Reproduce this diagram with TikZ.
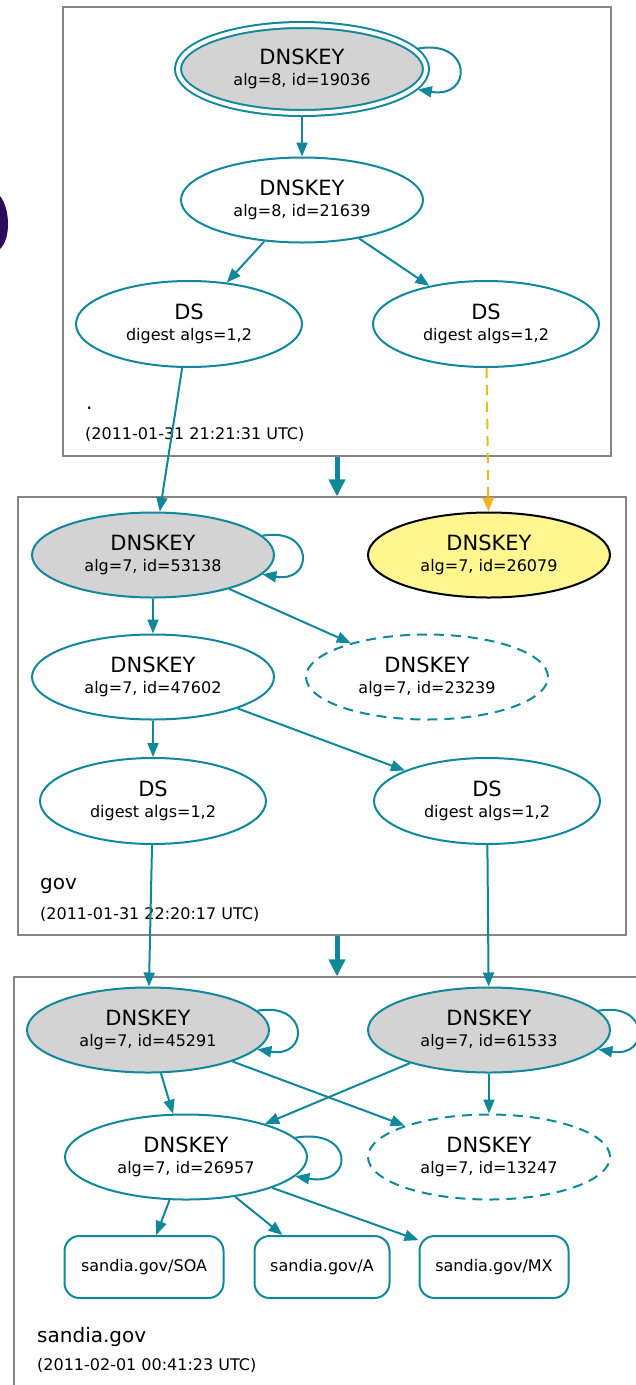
\documentclass[tikz,border=0pt]{standalone}
\usepackage{fontspec}
\setmainfont{DejaVu Sans}
\usepackage{tikz}
\usetikzlibrary{shapes.geometric,arrows.meta,positioning}
\definecolor{dvteal}{HTML}{10879A}
\definecolor{keygray}{HTML}{D3D3D3}
\definecolor{keyyellow}{HTML}{FFF68F}
\definecolor{lameorange}{HTML}{F2B51E}
\definecolor{zonegray}{HTML}{858585}
\definecolor{slidepurple}{HTML}{2E0A5E}
\tikzstyle{key} = [ellipse, draw=dvteal, line width=2pt, minimum width=242pt,
minimum height=85pt, inner sep=0pt, align=center, font=\fontsize{16}{21}\selectfont]
\tikzstyle{ds} = [key, minimum width=226pt, minimum height=86pt]
\tikzstyle{sep} = [key, fill=keygray]
\tikzstyle{trust} = [sep, double=white, double distance=4pt, outer sep=4pt,
minimum width=248pt, minimum height=88pt]
\tikzstyle{nokey} = [key, dash pattern=on 10pt off 7pt]
\tikzstyle{rrset} = [rectangle, draw=dvteal, line width=2pt, rounded corners=15pt,
minimum height=62pt, inner sep=0pt, font=\fontsize{16}{19}\selectfont]
\tikzstyle{zone} = [rectangle, draw=zonegray, line width=1.3pt, inner sep=0pt]
\tikzstyle{zonename} = [anchor=base west, inner sep=0pt, font=\fontsize{20}{24}\selectfont]
\tikzstyle{zonedate} = [anchor=base west, inner sep=0pt, font=\fontsize{16}{19}\selectfont]
\tikzstyle{line} = [draw=dvteal, line width=2pt, -{Triangle[length=14pt,width=11pt]}]
\tikzstyle{lame} = [draw=lameorange, line width=2pt, dash pattern=on 10pt off 7pt,
-{Triangle[length=14pt,width=11pt]}]
\tikzstyle{deleg} = [draw=dvteal, line width=5pt, -{Triangle[length=17pt,width=16pt]}]
\newcommand{\rrhead}[1]{{\fontsize{21}{21}\selectfont #1}}

\begin{document}
\begin{tikzpicture}[x=1pt, y=1pt]
\useasboundingbox (0,0) rectangle (635,-1385);
% Place zones
\node [zone, minimum width=548pt, minimum height=449pt] (root) at (337,-231.5) {};
\node [zone, minimum width=608pt, minimum height=438pt] (gov) at (322,-716) {};
\node [zone, minimum width=636pt, minimum height=423pt] (sandia) at (332,-1188.5) {};
% edge of a letter from the slide behind
\fill [slidepurple] (0,-196) .. controls (5,-202) and (8,-213) .. (8,-224)
  .. controls (8,-236) and (5,-244) .. (0,-249) -- cycle;

% Place nodes
\node [trust] (k19036) at (302,-69) {\rrhead{DNSKEY}\\alg=8, id=19036};
\node [key, below of=k19036, node distance=131pt] (k21639) {\rrhead{DNSKEY}\\alg=8, id=21639};
\node [ds] (dsa) at (189,-324) {\rrhead{DS}\\digest algs=1,2};
\node [ds] (dsb) at (486,-324) {\rrhead{DS}\\digest algs=1,2};
\node [zonename] (rootname) at (86,-409) {.};
\node [zonedate] (rootdate) at (85,-439) {(2011-01-31 21:21:31 UTC)};

\node [sep] (k53138) at (153,-555) {\rrhead{DNSKEY}\\alg=7, id=53138};
\node [key, fill=keyyellow, draw=black] (k26079) at (489,-555) {\rrhead{DNSKEY}\\alg=7, id=26079};
\node [key, below of=k53138, node distance=122pt] (k47602) {\rrhead{DNSKEY}\\alg=7, id=47602};
\node [nokey] (k23239) at (427,-677) {\rrhead{DNSKEY}\\alg=7, id=23239};
\node [ds, below of=k47602, node distance=124pt] (dsc) {\rrhead{DS}\\digest algs=1,2};
\node [ds] (dsd) at (487,-801) {\rrhead{DS}\\digest algs=1,2};
\node [zonename] (govname) at (40,-889) {gov};
\node [zonedate] (govdate) at (40,-919) {(2011-01-31 22:20:17 UTC)};

\node [sep] (k45291) at (148,-1030) {\rrhead{DNSKEY}\\alg=7, id=45291};
\node [sep] (k61533) at (489,-1030) {\rrhead{DNSKEY}\\alg=7, id=61533};
\node [key] (k26957) at (186,-1157) {\rrhead{DNSKEY}\\alg=7, id=26957};
\node [nokey, below of=k61533, node distance=127pt] (k13247) {\rrhead{DNSKEY}\\alg=7, id=13247};
\node [rrset, minimum width=159pt] (soa) at (144,-1267) {sandia.gov/SOA};
\node [rrset, minimum width=135pt] (arec) at (322,-1267) {sandia.gov/A};
\node [rrset, minimum width=149pt] (mx) at (494,-1267) {sandia.gov/MX};
\node [zonename] (sandianame) at (37,-1342) {sandia.gov};
\node [zonedate] (sandiadate) at (37,-1370) {(2011-02-01 00:41:23 UTC)};

% Draw edges
\path [line] (k19036) to [out=10, in=-10, looseness=3.5] (k19036);
\path [line] (k19036) -- (k21639);
\path [line] (k21639) -- (dsa);
\path [line] (k21639) -- (dsb);
\path [line] (dsa) -- (k53138);
\path [lame] (dsb) -- (k26079);
\path [deleg] (root.south) -- (root.south |- gov.north);

\path [line] (k53138) to [out=10, in=-10, looseness=3.5] (k53138);
\path [line] (k53138) -- (k47602);
\path [line] (k53138) -- (k23239);
\path [line] (k47602) -- (dsc);
\path [line] (k47602) -- (dsd);
\path [line] (dsc) -- (k45291);
\path [line] (dsd) -- (k61533);
\path [deleg] (root.south |- gov.south) -- (root.south |- sandia.north);

\path [line] (k45291) to [out=10, in=-10, looseness=3.5] (k45291);
\path [line] (k61533) to [out=10, in=-10, looseness=3.5] (k61533);
\path [line] (k45291) -- (k26957);
\path [line] (k45291) -- (k13247);
\path [line] (k61533) -- (k26957);
\path [line] (k61533) -- (k13247);
\path [line] (k26957) to [out=10, in=-10, looseness=4] (k26957);
\path [line] (k26957) -- (soa);
\path [line] (k26957) -- (arec);
\path [line] (k26957) -- (mx);
\end{tikzpicture}
\end{document}
